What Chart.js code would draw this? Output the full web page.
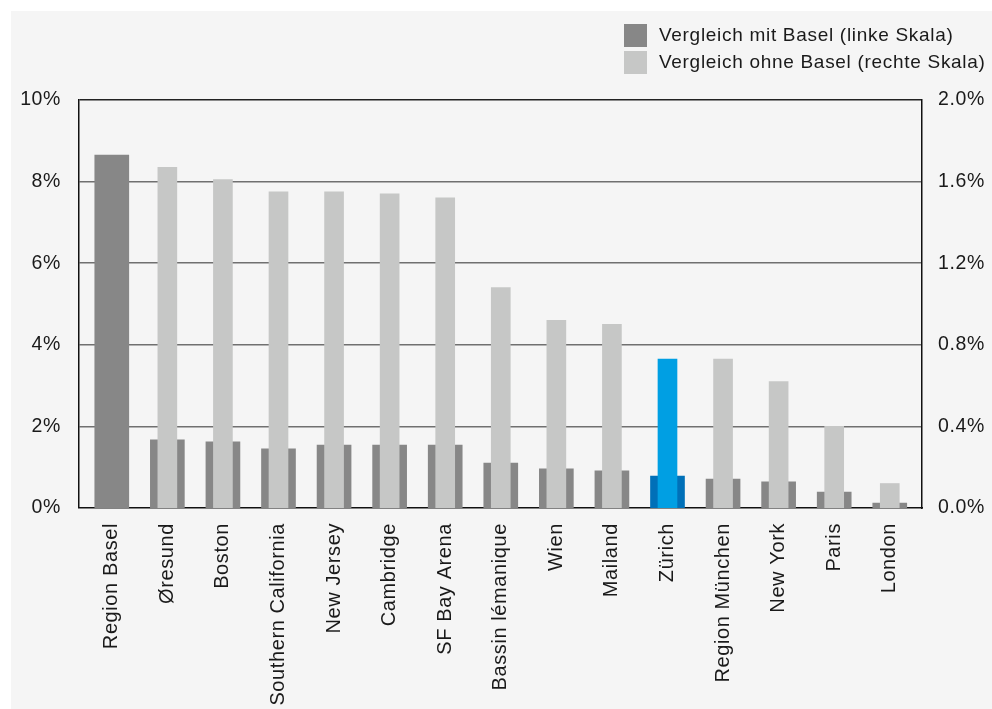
<!DOCTYPE html>
<html>
<head>
<meta charset="utf-8">
<script src="https://cdn.jsdelivr.net/npm/chart.js@4/dist/chart.umd.min.js"></script>
<style>
  html, body { margin: 0; padding: 0; background: #ffffff; }
  #wrap { position: absolute; left: 11px; top: 11px; width: 981px; height: 698px; background: #f5f5f5; }
</style>
</head>
<body>
<div id="wrap"><canvas id="c"></canvas></div>
<script>
// ---- data ----
const categories = ["Region Basel", "Øresund", "Boston", "Southern California", "New Jersey", "Cambridge", "SF Bay Arena", "Bassin lémanique", "Wien", "Mailand", "Zürich", "Region München", "New York", "Paris", "London"];
const withBasel = [8.65, 1.67, 1.62, 1.45, 1.54, 1.54, 1.54, 1.10, 0.96, 0.91, 0.78, 0.71, 0.64, 0.39, 0.12];      // left scale, %
const withoutBasel = [null, 1.67, 1.61, 1.55, 1.55, 1.54, 1.52, 1.08, 0.92, 0.90, 0.73, 0.73, 0.62, 0.40, 0.12]; // right scale, %
const leftTicks = [0, 2, 4, 6, 8, 10];
const rightTicks = [0, 0.4, 0.8, 1.2, 1.6, 2.0];
const seriesLabels = ["Vergleich mit Basel (linke Skala)", "Vergleich ohne Basel (rechte Skala)"];
const highlight = "Zürich";

// ---- styles ----
const darkGray = "#878787", lightGray = "#c6c7c6";
const darkBlue = "#0070b8", lightBlue = "#009fe3";
const textColor = "#1a1a1a";
const FONT = "'Liberation Sans', Arial, Helvetica, sans-serif";

const darkColors = categories.map(c => c === highlight ? darkBlue : darkGray);
const lightColors = categories.map(c => c === highlight ? lightBlue : lightGray);

const spacing = {
  id: 'spacing',
  beforeDraw(chart) { chart.ctx.letterSpacing = '0.6px'; }
};

const customLegend = {
  id: 'customLegend',
  afterDraw(chart) {
    const ctx = chart.ctx;
    const colors = [darkGray, lightGray];
    ctx.save();
    ctx.letterSpacing = '0.7px';
    ctx.font = "19px " + FONT;
    ctx.textBaseline = "middle";
    ctx.textAlign = "left";
    seriesLabels.forEach((lab, i) => {
      const y = 13 + i * 27;
      ctx.fillStyle = colors[i];
      ctx.fillRect(613, y, 23, 23);
      ctx.fillStyle = textColor;
      ctx.fillText(lab, 648, y + 12);
    });
    ctx.restore();
  }
};

new Chart(document.getElementById('c'), {
  type: 'bar',
  data: {
    datasets: [
      {
        label: seriesLabels[1],
        data: withoutBasel.map((v, i) => ({ x: i, y: v })),
        backgroundColor: lightColors,
        yAxisID: 'yR',
        grouped: false,
        barThickness: 19,
        order: 0
      },
      {
        label: seriesLabels[0],
        data: withBasel.map((v, i) => ({ x: i, y: v })),
        backgroundColor: darkColors,
        yAxisID: 'yL',
        grouped: false,
        barThickness: 34,
        order: 1
      }
    ]
  },
  options: {
    responsive: true,
    maintainAspectRatio: false,
    animation: false,
    layout: { padding: { top: 89, left: 0, right: 0, bottom: 0 } },
    plugins: { legend: { display: false }, tooltip: { enabled: false } },
    scales: {
      x: {
        type: 'linear',
        offset: false,
        min: -0.59,
        max: 14.58,
        afterBuildTicks: axis => { axis.ticks = categories.map((_, i) => ({ value: i })); },
        afterFit: s => { s.height = 201; },
        grid: { display: false, drawTicks: false },
        border: { display: true, color: '#111', width: 1.5 },
        ticks: {
          autoSkip: false,
          minRotation: 90,
          maxRotation: 90,
          padding: 15,
          color: textColor,
          font: { family: FONT, size: 20 },
          callback: v => categories[v]
        }
      },
      yL: {
        type: 'linear',
        position: 'left',
        min: 0,
        max: 10,
        afterBuildTicks: axis => { axis.ticks = leftTicks.map(v => ({ value: v })); },
        afterFit: s => { s.width = 68; },
        grid: {
          drawTicks: false,
          color: c => (c.tick && c.tick.value === 10) ? '#222' : '#707070',
          lineWidth: c => (c.tick && c.tick.value === 0) ? 0 : 1.5
        },
        border: { display: true, color: '#111', width: 1.5 },
        ticks: {
          padding: 18,
          color: textColor,
          font: { family: FONT, size: 19.5 },
          callback: v => v + '%'
        }
      },
      yR: {
        type: 'linear',
        position: 'right',
        min: 0,
        max: 2,
        afterBuildTicks: axis => { axis.ticks = rightTicks.map(v => ({ value: v })); },
        afterFit: s => { s.width = 70; },
        grid: { display: false, drawTicks: false },
        border: { display: true, color: '#111', width: 1.5 },
        ticks: {
          padding: 16,
          color: textColor,
          font: { family: FONT, size: 19.5 },
          callback: v => v.toFixed(1) + '%'
        }
      }
    }
  },
  plugins: [spacing, customLegend]
});
</script>
</body>
</html>
